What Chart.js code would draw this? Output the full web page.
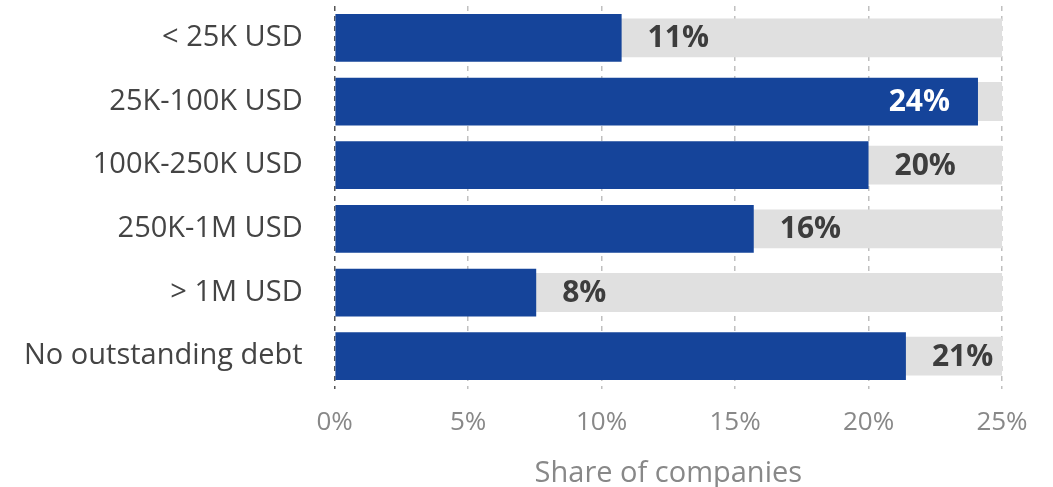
<!DOCTYPE html>
<html>
<head>
<meta charset="utf-8">
<script src="https://cdn.jsdelivr.net/npm/chart.js@4.4.0/dist/chart.umd.min.js"></script>
<style>
  html, body { margin: 0; padding: 0; background: #fff; }
  #wrap { width: 1053px; height: 487px; }
</style>
</head>
<body>
<div id="wrap"><canvas id="debtChart"></canvas></div>
<script>
  var categories = ["< 25K USD", "25K-100K USD", "100K-250K USD", "250K-1M USD", "> 1M USD", "No outstanding debt"];
  var shares = [10.75, 24.1, 20.0, 15.7, 7.55, 21.4];
  var trackMax = [25, 25, 25, 25, 25, 25];
  var xTicks = [0, 5, 10, 15, 20, 25];

  var blue = "#15449a";
  var track = "#e0e0e0";
  var fontFamily = "'Open Sans', sans-serif";

  // value labels: outside the bar end, or inside in white when there is no room
  var valueLabels = {
    id: "valueLabels",
    afterDatasetsDraw: function (chart) {
      var ctx = chart.ctx;
      var meta = chart.getDatasetMeta(0);
      var area = chart.chartArea;
      ctx.save();
      ctx.font = "bold 30px " + fontFamily;
      ctx.textBaseline = "middle";
      meta.data.forEach(function (bar, i) {
        var text = Math.round(shares[i]) + "%";
        var w = ctx.measureText(text).width;
        var pad = 26;
        if (bar.x + pad + w > area.right) {
          ctx.fillStyle = "#fff";
          ctx.textAlign = "right";
          ctx.fillText(text, bar.x - 28, bar.y + 1);
        } else {
          ctx.fillStyle = "#3d3d3d";
          ctx.textAlign = "left";
          ctx.fillText(text, bar.x + pad, bar.y + 1);
        }
      });
      ctx.restore();
    },
  };

  new Chart(document.getElementById("debtChart").getContext("2d"), {
    type: "bar",
    data: {
      labels: categories,
      datasets: [
        {
          data: shares,
          backgroundColor: blue,
          barPercentage: 0.75,
          categoryPercentage: 1,
          grouped: false,
          order: 1,
        },
        {
          data: trackMax,
          backgroundColor: track,
          barPercentage: 0.61,
          categoryPercentage: 1,
          grouped: false,
          order: 2,
        },
      ],
    },
    options: {
      indexAxis: "y",
      responsive: true,
      maintainAspectRatio: false,
      animation: false,
      layout: {
        padding: { left: -8, right: 51, top: 6, bottom: -4 },
      },
      plugins: {
        legend: { display: false },
        tooltip: { enabled: false },
      },
      scales: {
        x: {
          min: 0,
          max: 25,
          afterBuildTicks: function (scale) {
            scale.ticks = xTicks.map(function (v) {
              return { value: v };
            });
          },
          // end labels may hang over the plot edges
          afterFit: function (scale) {
            scale.paddingLeft = 0;
            scale.paddingRight = 0;
          },
          border: { display: false, dash: [5, 5] },
          grid: {
            color: function (c) {
              return c.tick && c.tick.value === 0 ? "#555" : "#c0c0c0";
            },
            lineWidth: 1.5,
            tickLength: 1,
            tickBorderDash: [5, 5],
          },
          ticks: {
            color: "#888",
            padding: 18,
            font: { family: fontFamily, size: 26 },
            callback: function (v) {
              return v + "%";
            },
          },
          title: {
            display: true,
            text: "Share of companies",
            color: "#888",
            padding: { top: 0, bottom: 0 },
            font: { family: fontFamily, size: 29 },
          },
        },
        y: {
          border: { display: false },
          grid: { display: false, drawTicks: false },
          ticks: {
            color: "#444",
            padding: 32,
            font: { family: fontFamily, size: 29 },
          },
          // the category labels sit centred in their bands, no extra room above or below
          afterFit: function (scale) {
            scale.paddingTop = 0;
            scale.paddingBottom = 0;
          },
        },
      },
    },
    plugins: [valueLabels],
  });
</script>
</body>
</html>
